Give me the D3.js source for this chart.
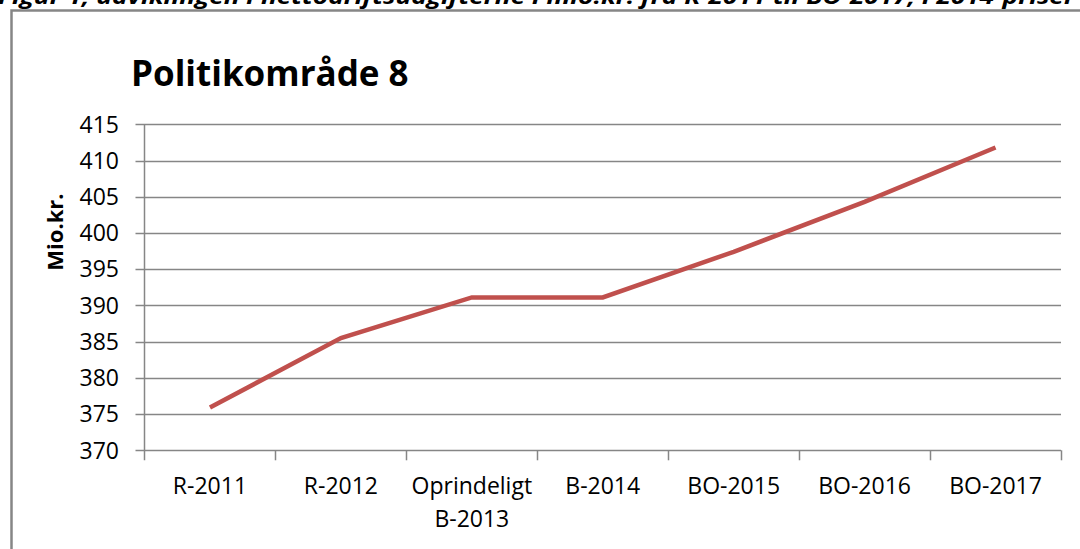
<!DOCTYPE html>
<html>
<head>
<meta charset="utf-8">
<script src="https://cdn.jsdelivr.net/npm/d3@7"></script>
<style>
  body { margin: 0; background: #fff; }
  svg { display: block; }
  text { font-family: "Open Sans", sans-serif; fill: #000; }
</style>
</head>
<body>
<div id="chart"></div>
<script>
// data
var categories = ["R-2011", "R-2012", "Oprindeligt B-2013", "B-2014", "BO-2015", "BO-2016", "BO-2017"];
var values = [375.9, 385.5, 391.1, 391.1, 397.4, 404.3, 411.8];
var yTicks = [370, 375, 380, 385, 390, 395, 400, 405, 410, 415];
var title = "Politikområde 8";
var yLabel = "Mio.kr.";
var caption = "Figur 1, udviklingen i nettodriftsudgifterne i mio.kr. fra R-2011 til BO-2017, i 2014-priser";

var W = 1080, H = 549;
var plot = {left: 144.5, right: 1061, top: 124.3, bottom: 450.3};
var grey = "#868686";

var svg = d3.select("#chart").append("svg")
  .attr("width", W)
  .attr("height", H);

// caption above the frame, cut by the top edge as in the source
svg.append("text")
  .attr("x", -2)
  .attr("y", 4)
  .attr("textLength", 1077)
  .attr("lengthAdjust", "spacingAndGlyphs")
  .style("font-size", "22px")
  .style("font-weight", "bold")
  .style("font-style", "italic")
  .text(caption);

// frame around the chart
svg.append("rect")
  .attr("x", 11.5)
  .attr("y", 10.5)
  .attr("width", W + 20)
  .attr("height", H + 20)
  .style("fill", "none")
  .style("stroke", grey)
  .style("stroke-width", 2.5);

svg.append("text")
  .attr("x", 131)
  .attr("y", 86)
  .style("font-size", "35px")
  .style("font-weight", "bold")
  .text(title);

var x = d3.scaleBand()
  .domain(categories)
  .range([plot.left, plot.right])
  .padding(0);

var y = d3.scaleLinear()
  .domain([370, 415])
  .range([plot.bottom, plot.top]);

// horizontal gridlines + y tick labels
var grid = svg.append("g");
grid.selectAll("line")
  .data(yTicks)
  .enter().append("line")
  .attr("x1", plot.left - 9)
  .attr("x2", plot.right)
  .attr("y1", function (d) { return Math.round(y(d)) + 0.5; })
  .attr("y2", function (d) { return Math.round(y(d)) + 0.5; })
  .style("stroke", grey)
  .style("stroke-width", 1.5);

grid.selectAll("text")
  .data(yTicks)
  .enter().append("text")
  .attr("x", 119)
  .attr("y", function (d) { return y(d); })
  .attr("dy", "0.36em")
  .attr("text-anchor", "end")
  .style("font-size", "23px")
  .text(function (d) { return d; });

// y axis line
svg.append("line")
  .attr("x1", plot.left)
  .attr("x2", plot.left)
  .attr("y1", plot.top)
  .attr("y2", plot.bottom + 10)
  .style("stroke", grey)
  .style("stroke-width", 1.5);

// x tick marks at band edges
var edges = categories.map(function (c) { return x(c); }).concat([plot.right]);
svg.append("g").selectAll("line")
  .data(edges.slice(1))
  .enter().append("line")
  .attr("x1", function (d) { return Math.round(d) + 0.5; })
  .attr("x2", function (d) { return Math.round(d) + 0.5; })
  .attr("y1", plot.bottom)
  .attr("y2", plot.bottom + 10)
  .style("stroke", grey)
  .style("stroke-width", 1.5);

// category labels, wrapped on the space for the long one
var cat = svg.append("g").selectAll("text")
  .data(categories)
  .enter().append("text")
  .attr("text-anchor", "middle")
  .style("font-size", "23px");
cat.each(function (d) {
  var t = d3.select(this);
  var cx = x(d) + x.bandwidth() / 2;
  var parts = d.indexOf(" ") > 0 ? d.split(" ") : [d];
  parts.forEach(function (p, i) {
    t.append("tspan")
      .attr("x", cx)
      .attr("y", 494 + i * 32.5)
      .text(p);
  });
});

// y axis title
svg.append("text")
  .attr("transform", "translate(63,232) rotate(-90)")
  .attr("text-anchor", "middle")
  .style("font-size", "22px")
  .style("font-weight", "bold")
  .text(yLabel);

// the series line
var line = d3.line()
  .x(function (d, i) { return x(categories[i]) + x.bandwidth() / 2; })
  .y(function (d) { return y(d); });

svg.append("path")
  .datum(values)
  .attr("d", line)
  .style("fill", "none")
  .style("stroke", "#C0504D")
  .style("stroke-width", 4.5);
</script>
</body>
</html>
